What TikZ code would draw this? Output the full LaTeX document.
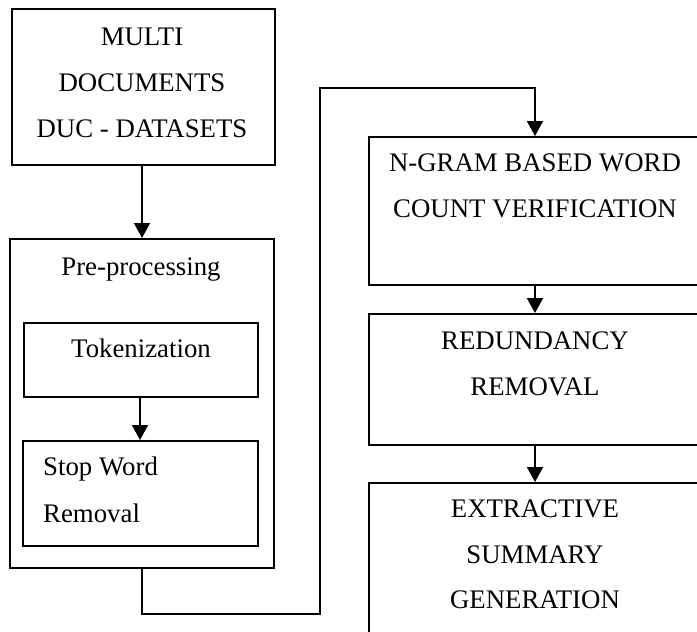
\documentclass[tikz,border=0pt]{standalone}
\usepackage{fontspec}
\setmainfont{Liberation Serif}
\usetikzlibrary{arrows.meta}

\begin{document}
\begin{tikzpicture}[x=1pt,y=-1pt,
  box/.style={draw, line width=1.8pt, rectangle, inner sep=0pt, anchor=north west},
  lbl/.style={anchor=base, inner sep=0pt, font=\fontsize{26.8}{30}\selectfont},
  lbll/.style={anchor=base west, inner sep=0pt, font=\fontsize{26.8}{30}\selectfont},
  flow/.style={line width=1.8pt, -{Triangle[length=15pt,width=16pt]}},
  link/.style={line width=1.8pt}]
  \path[use as bounding box, clip] (0,0) rectangle (697,632);

  % left column
  \node[box, minimum width=263pt, minimum height=156pt] (src) at (11,8) {};
  \node[box, minimum width=264pt, minimum height=329pt] (pre) at (9,238) {};
  \node[box, minimum width=234pt, minimum height=74pt] (tok) at (23,322) {};
  \node[box, minimum width=235pt, minimum height=105pt] (stop) at (22,440) {};

  % right column
  \node[box, minimum width=334pt, minimum height=148pt] (ngram) at (368,136) {};
  \node[box, minimum width=334pt, minimum height=131pt] (red) at (368,313) {};
  \node[box, minimum width=334pt, minimum height=170pt] (ext) at (368,482) {};

  % labels
  \node[lbl] (src1) at (142,45) {MULTI};
  \node[lbl] (src2) at (142,91) {DOCUMENTS};
  \node[lbl] (src3) at (142,137) {DUC - DATASETS};
  \node[lbl] (pre1) at (141,275) {Pre-processing};
  \node[lbl] (tok1) at (141,357) {Tokenization};
  \node[lbll] (stop1) at (43,475) {Stop Word};
  \node[lbll] (stop2) at (43,522) {Removal};
  \node[lbl] (ng1) at (535,171) {N-GRAM BASED WORD};
  \node[lbl] (ng2) at (535,217) {COUNT VERIFICATION};
  \node[lbl] (red1) at (535,349) {REDUNDANCY};
  \node[lbl] (red2) at (535,395) {REMOVAL};
  \node[lbl] (ext1) at (535,517) {EXTRACTIVE};
  \node[lbl] (ext2) at (535,563) {SUMMARY};
  \node[lbl] (ext3) at (535,608) {GENERATION};

  % connectors
  \coordinate (s1) at (142,164);
  \coordinate (s2) at (142,238);
  \draw[flow] (s1) -- (s2);
  \coordinate (t1) at (140,396);
  \coordinate (t2) at (140,440);
  \draw[flow] (t1) -- (t2);

  \coordinate (p1) at (142,567);
  \coordinate (p2) at (142,614);
  \coordinate (p3) at (320,614);
  \coordinate (p4) at (320,88);
  \coordinate (p5) at (535,88);
  \coordinate (p6) at (535,136);
  \draw[flow, line join=miter] (p1) -- (p2) -- (p3) -- (p4) -- (p5) -- (p6);

  \coordinate (n1) at (535,284);
  \coordinate (n2) at (535,313);
  \draw[flow] (n1) -- (n2);
  \coordinate (r1) at (535,444);
  \coordinate (r2) at (535,482);
  \draw[flow] (r1) -- (r2);
\end{tikzpicture}
\end{document}
